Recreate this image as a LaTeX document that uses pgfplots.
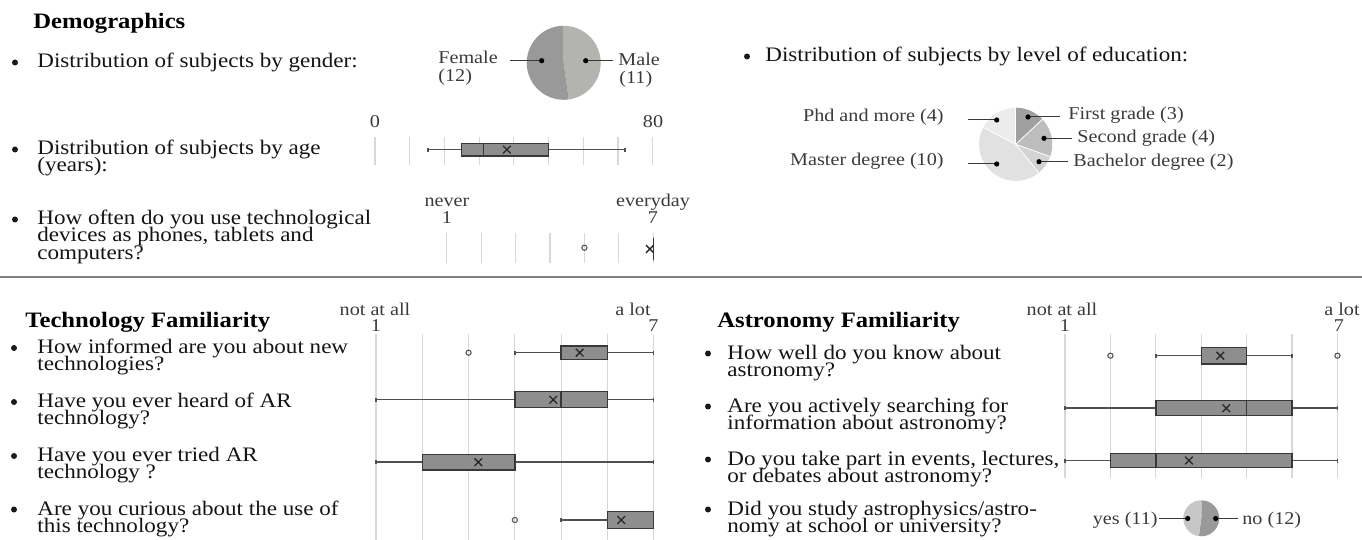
\documentclass[border=0pt]{standalone}
\usepackage{fontspec}
\setmainfont{Liberation Serif}[FakeStretch=1.12]
\usepackage{pgfplots}
\pgfplotsset{compat=1.18}
\usepgfplotslibrary{statistics}
\definecolor{gridc}{HTML}{D8D8D8}
\definecolor{boxf}{HTML}{8E8E8E}
\definecolor{boxd}{HTML}{383838}
\definecolor{whisk}{HTML}{505050}
\definecolor{lab}{HTML}{3A3A3A}
\definecolor{femc}{HTML}{999999}
\definecolor{malec}{HTML}{B3B3AF}
\definecolor{eA}{HTML}{A0A0A0}
\definecolor{eB}{HTML}{BDBDBD}
\definecolor{eC}{HTML}{D3D3D3}
\definecolor{eD}{HTML}{E1E1E1}
\definecolor{eE}{HTML}{ECECEC}
\definecolor{yesc}{HTML}{C6C6C6}
\definecolor{noc}{HTML}{999999}
\newcommand\bt{\fontsize{10.3}{10}\selectfont\color{black!92}}
\newcommand\lt{\fontsize{9}{9}\selectfont\color{lab}}
\newcommand\hd{\fontsize{11}{11}\selectfont\bfseries}
\newcommand\bul[2]{\fill[black!90] (#1,#2-5.5) circle[radius=1.5pt];}
\pgfplotsset{
  bx/.style={scale only axis, clip=false, anchor=south west,
    axis line style={draw=none}, tick style={draw=none},
    xticklabel=\empty, ytick=\empty, xmajorgrids,
    grid style={gridc, line width=0.6pt},
    boxplot/draw direction=x,
    boxplot/every whisker/.style={whisk, line width=0.75pt},
    boxplot/every median/.style={boxd, line width=0.75pt},
    boxplot/whisker extend=4},
  bp/.style={draw=boxd, fill=boxf, line width=0.7pt},
  mn/.style={only marks, mark=x, mark size=2.7pt, black!85, mark options={line width=0.65pt}},
  ol/.style={only marks, mark=o, mark size=1.3pt, black!65, mark options={line width=0.55pt}},
}
\begin{document}
\begin{tikzpicture}[x=0.5pt,y=-0.5pt]
\path[use as bounding box] (0,0) rectangle (1362,540);
\coordinate (ageA) at (375,165);
\coordinate (devA) at (446.7,263);
\coordinate (techA) at (376,540);
\coordinate (astA) at (1065,478);

% ---------- Demographics ----------
\node[anchor=base west, inner sep=0] at (33,29) {\hd Demographics};
\bul{15}{68}
\node[anchor=base west, inner sep=0] at (37,68) {\bt Distribution of subjects by gender:};

% gender pie
\pgfmathsetmacro\gM{90-360*11/23}
\begin{scope}[shift={(563.7,62.8)}]
\fill[malec] (0,0) -- (90:18.5pt) arc[start angle=90, end angle=\gM, radius=18.5pt] -- cycle;
\fill[femc] (0,0) -- (\gM:18.5pt) arc[start angle=\gM, end angle=-270, radius=18.5pt] -- cycle;
\end{scope}
\draw[lab, line width=0.5pt] (510,60.7) -- (541.7,60.7);
\fill[black] (541.7,60.7) circle[radius=1.3pt];
\draw[lab, line width=0.5pt] (585.7,60.7) -- (613.3,60.7);
\fill[black] (585.7,60.7) circle[radius=1.3pt];
\node[anchor=base west, inner sep=0] at (438,64) {\lt Female};
\node[anchor=base west, inner sep=0] at (438,81.5) {\lt (12)};
\node[anchor=base west, inner sep=0] at (618,66) {\lt Male};
\node[anchor=base west, inner sep=0] at (619,83.5) {\lt (11)};

% age
\bul{15}{155}
\node[anchor=base west, inner sep=0] at (37,155) {\bt Distribution of subjects by age};
\node[anchor=base west, inner sep=0] at (37,171.5) {\bt (years):};
\node[anchor=base, inner sep=0] at (375,128) {\lt 0};
\node[anchor=base, inner sep=0] at (653,128) {\lt 80};
\begin{axis}[bx, at={(ageA)}, width=138.85pt, height=14.2pt,
  xmin=0, xmax=80, ymin=-165, ymax=-136.7, xtick={0,10,...,80}]
\addplot[bp, boxplot prepared={draw position=-149.7, lower whisker=15.2, lower quartile=25,
  median=31.2, upper quartile=50, upper whisker=72, box extend=12.7}] coordinates {};
\addplot[mn] coordinates {(38,-149.7)};
\end{axis}

% device use
\bul{15}{225}
\node[anchor=base west, inner sep=0] at (37,225) {\bt How often do you use technological};
\node[anchor=base west, inner sep=0] at (37,242) {\bt devices as phones, tablets and};
\node[anchor=base west, inner sep=0] at (37,259) {\bt computers?};
\node[anchor=base, inner sep=0] at (447,206) {\lt never};
\node[anchor=base, inner sep=0] at (447,224) {\lt 1};
\node[anchor=base, inner sep=0] at (653,206) {\lt everyday};
\node[anchor=base, inner sep=0] at (653,224) {\lt 7};
\begin{axis}[bx, at={(devA)}, width=103.3pt, height=15pt,
  xmin=1, xmax=7, ymin=-263, ymax=-233, xtick={1,...,7}]
\addplot[bp, boxplot prepared={draw position=-249, lower whisker=7, lower quartile=7,
  median=7, upper quartile=7, upper whisker=7, box extend=22}] coordinates {};
\addplot[ol] coordinates {(5,-247.7)};
\addplot[mn] coordinates {(6.9,-249)};
\end{axis}

% education
\bul{747}{62}
\node[anchor=base west, inner sep=0] at (765,62) {\bt Distribution of subjects by level of education:};
\pgfmathsetmacro\eA{90-360*3/23}
\pgfmathsetmacro\eB{\eA-360*4/23}
\pgfmathsetmacro\eC{\eB-360*2/23}
\pgfmathsetmacro\eD{\eC-360*10/23}
\begin{scope}[shift={(1015.7,144.3)}]
\fill[eA] (0,0) -- (90:18.3pt) arc[start angle=90, end angle=\eA, radius=18.3pt] -- cycle;
\fill[eB] (0,0) -- (\eA:18.3pt) arc[start angle=\eA, end angle=\eB, radius=18.3pt] -- cycle;
\fill[eC] (0,0) -- (\eB:18.3pt) arc[start angle=\eB, end angle=\eC, radius=18.3pt] -- cycle;
\fill[eD] (0,0) -- (\eC:18.3pt) arc[start angle=\eC, end angle=\eD, radius=18.3pt] -- cycle;
\fill[eE] (0,0) -- (\eD:18.3pt) arc[start angle=\eD, end angle=-270, radius=18.3pt] -- cycle;
\foreach \a in {90,\eA,\eB,\eC,\eD} \draw[white, line width=0.4pt] (0,0) -- (\a:18.3pt);
\end{scope}
\draw[lab, line width=0.5pt] (968,120) -- (996.7,120);
\fill[black] (996.7,120) circle[radius=1.3pt];
\draw[lab, line width=0.5pt] (968,164) -- (996.7,164);
\fill[black] (996.7,164) circle[radius=1.3pt];
\draw[lab, line width=0.5pt] (1028,117) -- (1060,117);
\fill[black] (1028,117) circle[radius=1.3pt];
\draw[lab, line width=0.5pt] (1044,138.3) -- (1072,138.3);
\fill[black] (1044,138.3) circle[radius=1.3pt];
\draw[lab, line width=0.5pt] (1039,161.7) -- (1068,161.7);
\fill[black] (1039,161.7) circle[radius=1.3pt];
\node[anchor=base east, inner sep=0] at (944,122) {\lt Phd and more (4)};
\node[anchor=base east, inner sep=0] at (944,166) {\lt Master degree (10)};
\node[anchor=base west, inner sep=0] at (1068,120) {\lt First grade (3)};
\node[anchor=base west, inner sep=0] at (1077,143) {\lt Second grade (4)};
\node[anchor=base west, inner sep=0] at (1073,167) {\lt Bachelor degree (2)};

% separator
\draw[black!50, line width=0.6pt] (0,277) -- (1362,277);

% ---------- Technology Familiarity ----------
\node[anchor=base west, inner sep=0] at (25,328) {\hd Technology Familiarity};
\node[anchor=base, inner sep=0] at (375,315) {\lt not at all};
\node[anchor=base, inner sep=0] at (376,331.5) {\lt 1};
\node[anchor=base east, inner sep=0] at (651,315) {\lt a lot};
\node[anchor=base, inner sep=0] at (653.5,331.5) {\lt 7};
\foreach \y/\a/\b in {353.5/How informed are you about new/technologies?,
  407.5/Have you ever heard of AR/technology?,
  461.5/Have you ever tried AR/technology ?,
  515/Are you curious about the use of/this technology?}{
  \bul{14}{\y}
  \node[anchor=base west, inner sep=0] at (37,\y) {\bt \a};
  \node[anchor=base west, inner sep=0] at (37,\y+17) {\bt \b};
}
\begin{axis}[bx, at={(techA)}, width=138.85pt, height=103pt,
  xmin=1, xmax=7, ymin=-540, ymax=-334, xtick={1,...,7}]
\addplot[bp, boxplot prepared={draw position=-352.7, lower whisker=4, lower quartile=5,
  median=5, upper quartile=6, upper whisker=7, box extend=13.3}] coordinates {};
\addplot[ol] coordinates {(3,-352.7)};
\addplot[mn] coordinates {(5.4,-352.7)};
\addplot[bp, boxplot prepared={draw position=-399.7, lower whisker=1, lower quartile=4,
  median=5, upper quartile=6, upper whisker=7, box extend=16}] coordinates {};
\addplot[mn] coordinates {(4.83,-399.7)};
\addplot[bp, boxplot prepared={draw position=-462.2, lower whisker=1, lower quartile=2,
  median=2, upper quartile=4, upper whisker=7, box extend=15.7}] coordinates {};
\addplot[mn] coordinates {(3.21,-462.2)};
\addplot[bp, boxplot prepared={draw position=-520, lower whisker=5, lower quartile=6,
  median=7, upper quartile=7, upper whisker=7, box extend=16.6}] coordinates {};
\addplot[ol] coordinates {(4,-520)};
\addplot[mn] coordinates {(6.3,-520)};
\end{axis}

% ---------- Astronomy Familiarity ----------
\node[anchor=base west, inner sep=0] at (717,328) {\hd Astronomy Familiarity};
\node[anchor=base, inner sep=0] at (1062,315) {\lt not at all};
\node[anchor=base, inner sep=0] at (1065,331.5) {\lt 1};
\node[anchor=base east, inner sep=0] at (1360,315) {\lt a lot};
\node[anchor=base, inner sep=0] at (1339,331.5) {\lt 7};
\foreach \y/\a/\b in {359/How well do you know about/astronomy?,
  412/Are you actively searching for/information about astronomy?,
  465/{Do you take part in events, lectures,}/or debates about astronomy?,
  515/{Did you study astrophysics/astro-}/nomy at school or university?}{
  \bul{708}{\y}
  \node[anchor=base west, inner sep=0] at (727,\y) {\bt \a};
  \node[anchor=base west, inner sep=0] at (727,\y+17) {\bt \b};
}
\begin{axis}[bx, at={(astA)}, width=136.25pt, height=72pt,
  xmin=1, xmax=7, ymin=-478, ymax=-334, xtick={1,...,7}]
\addplot[bp, boxplot prepared={draw position=-355.7, lower whisker=3, lower quartile=4,
  median=4, upper quartile=5, upper whisker=6, box extend=16.3}] coordinates {};
\addplot[ol] coordinates {(2,-355.7) (7,-355.7)};
\addplot[mn] coordinates {(4.42,-355.7)};
\addplot[bp, boxplot prepared={draw position=-408.2, lower whisker=1, lower quartile=3,
  median=5, upper quartile=6, upper whisker=7, box extend=15}] coordinates {};
\addplot[mn] coordinates {(4.55,-408.2)};
\addplot[bp, boxplot prepared={draw position=-460.5, lower whisker=1, lower quartile=2,
  median=3, upper quartile=6, upper whisker=7, box extend=14.4}] coordinates {};
\addplot[mn] coordinates {(3.73,-460.5)};
\end{axis}

% yes/no pie
\pgfmathsetmacro\nA{90-360*12/23}
\begin{scope}[shift={(1201.3,518.3)}]
\fill[noc] (0,0) -- (90:9pt) arc[start angle=90, end angle=\nA, radius=9pt] -- cycle;
\fill[yesc] (0,0) -- (\nA:9pt) arc[start angle=\nA, end angle=-270, radius=9pt] -- cycle;
\end{scope}
\draw[lab, line width=0.5pt] (1159,518.5) -- (1187.7,518.5);
\fill[black] (1187.7,518.5) circle[radius=1.3pt];
\draw[lab, line width=0.5pt] (1215.7,518.5) -- (1238,518.5);
\fill[black] (1215.7,518.5) circle[radius=1.3pt];
\node[anchor=base east, inner sep=0] at (1158,524) {\lt yes (11)};
\node[anchor=base west, inner sep=0] at (1242,524) {\lt no (12)};
\end{tikzpicture}
\end{document}
